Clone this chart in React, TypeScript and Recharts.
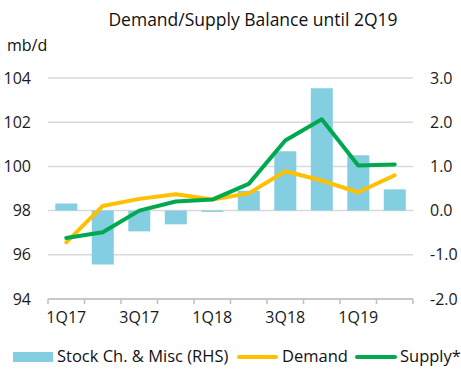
import { ComposedChart, Bar, Line, XAxis, YAxis, CartesianGrid } from "recharts";

const quarters = ["1Q17", "2Q17", "3Q17", "4Q17", "1Q18", "2Q18", "3Q18", "4Q18", "1Q19", "2Q19"];
const stockChange = [0.16, -1.22, -0.47, -0.31, -0.03, 0.45, 1.34, 2.77, 1.25, 0.48];
const demand = [96.56, 98.21, 98.53, 98.74, 98.5, 98.78, 99.78, 99.36, 98.83, 99.6];
const supply = [96.76, 97.02, 98.0, 98.41, 98.5, 99.21, 101.17, 102.13, 100.04, 100.09];
const leftTicks = [94, 96, 98, 100, 102, 104];
const rightTicks = [-2, -1, 0, 1, 2, 3];

const data = quarters.map((q, i) => ({
  q,
  stock: stockChange[i],
  demand: demand[i],
  supply: supply[i],
}));

const FONT = "'Open Sans', sans-serif";
const BAR = "#83cee1";
const DEMAND = "#ffc000";
const SUPPLY = "#00a84f";
const AXIS = "#bfbfbf";
const HALF_BAND = 18.25;

/* ── x axis: ticks on category edges, label every other quarter ── */

function QuarterTick(props: any) {
  const { x, y, payload, index } = props;
  const last = index === quarters.length - 1;
  return (
    <g>
      <line x1={x - HALF_BAND} x2={x - HALF_BAND} y1={y} y2={y + 5} stroke={AXIS} strokeWidth={1.5} />
      {last && <line x1={x + HALF_BAND} x2={x + HALF_BAND} y1={y} y2={y + 5} stroke={AXIS} strokeWidth={1.5} />}
      {index % 2 === 0 && (
        <text x={x} y={y + 24} textAnchor="middle" fontSize={16} fill="#1a1a1a" fontFamily={FONT}>
          {payload.value}
        </text>
      )}
    </g>
  );
}

export default function App() {
  const tickStyle = { fontSize: 16, fill: "#1a1a1a", fontFamily: FONT };
  return (
    <div style={{ position: "relative", width: 461, height: 385 }}>
      <style>{"body{margin:0}"}</style>
      <ComposedChart
        width={461}
        height={385}
        data={data}
        margin={{ top: 78, right: 0, left: 0, bottom: 56 }}
        barCategoryGap="20%"
      >
        <CartesianGrid yAxisId="left" vertical={false} stroke="#d9d9d9" strokeWidth={1.5} />
        <XAxis
          dataKey="q"
          height={30}
          interval={0}
          tickSize={0}
          tickMargin={0}
          tickLine={false}
          axisLine={{ stroke: AXIS, strokeWidth: 1.5 }}
          tick={<QuarterTick />}
        />
        <YAxis
          yAxisId="left"
          width={48}
          domain={[94, 104]}
          ticks={leftTicks}
          tickSize={0}
          tickMargin={17}
          axisLine={false}
          tickLine={false}
          tick={tickStyle}
        />
        <YAxis
          yAxisId="right"
          orientation="right"
          width={48}
          domain={[-2, 3]}
          ticks={rightTicks}
          tickSize={0}
          tickMargin={17}
          axisLine={false}
          tickLine={false}
          tick={tickStyle}
          tickFormatter={(v: number) => v.toFixed(1)}
        />
        <Bar yAxisId="right" dataKey="stock" fill={BAR} isAnimationActive={false} />
        <Line
          yAxisId="left"
          type="linear"
          dataKey="demand"
          stroke={DEMAND}
          strokeWidth={4}
          strokeLinecap="round"
          strokeLinejoin="round"
          dot={false}
          isAnimationActive={false}
        />
        <Line
          yAxisId="left"
          type="linear"
          dataKey="supply"
          stroke={SUPPLY}
          strokeWidth={4}
          strokeLinecap="round"
          strokeLinejoin="round"
          dot={false}
          isAnimationActive={false}
        />
      </ComposedChart>

      {/* title, unit and legend */}
      <svg
        width={461}
        height={385}
        style={{ position: "absolute", left: 0, top: 0, pointerEvents: "none" }}
        fontFamily={FONT}
      >
        <text x={253} y={26} textAnchor="middle" fontSize={17.5} fill="#111">
          Demand/Supply Balance until 2Q19
        </text>
        <text x={7} y={51} fontSize={16} fill="#111">
          mb/d
        </text>
        <rect x={13} y={352} width={40} height={10} fill={BAR} />
        <text x={57} y={362} fontSize={16.5} fill="#111">
          Stock Ch. &amp; Misc (RHS)
        </text>
        <line x1={239} x2={276} y1={357} y2={357} stroke={DEMAND} strokeWidth={4} strokeLinecap="round" />
        <text x={282} y={362} fontSize={16.5} fill="#111">
          Demand
        </text>
        <line x1={357} x2={395} y1={357} y2={357} stroke={SUPPLY} strokeWidth={4} strokeLinecap="round" />
        <text x={400} y={362} fontSize={16.5} fill="#111">
          Supply*
        </text>
      </svg>
    </div>
  );
}
